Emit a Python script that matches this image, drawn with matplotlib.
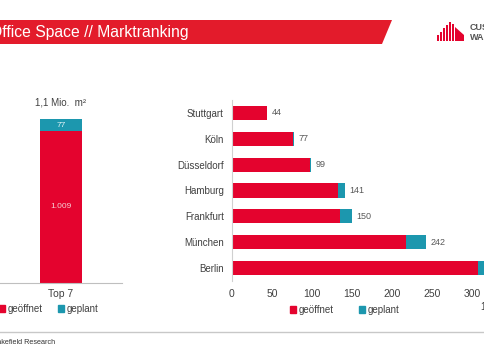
import matplotlib
matplotlib.use("Agg")
import matplotlib.pyplot as plt
from matplotlib.patches import Polygon, Rectangle

plt.rcParams['font.family'] = ['Liberation Sans', 'DejaVu Sans']

# data (1.000 m²)
cities = ["Stuttgart", "Köln", "Düsseldorf", "Hamburg", "Frankfurt", "München", "Berlin"]
opened = [44, 76, 97, 132, 135, 217, 308]
planned = [0, 1, 2, 9, 15, 25, 25]
totals = [44, 77, 99, 141, 150, 242, 333]
top7_opened = 1009
top7_planned = 77
top7_label = "Top 7"

RED = "#E4032E"
TEAL = "#1C97AE"
GREY = "#404040"

W, H = 485, 360
fig = plt.figure(figsize=(W / 100, H / 100), dpi=100)


def rect(x0, y0, x1, y1):
    # pixel box -> figure fraction
    return [x0 / W, 1 - y1 / H, (x1 - x0) / W, (y1 - y0) / H]


# header banner
bg = fig.add_axes([0, 0, 1, 1])
bg.set_xlim(0, W)
bg.set_ylim(H, 0)
bg.axis("off")
bg.add_patch(Polygon([(0, 20), (392, 20), (382, 44), (0, 44)], closed=True,
                     facecolor="#E31B2B", edgecolor="none"))
bg.text(-10.5, 32, "Office Space // Marktranking", color="white", fontsize=11.3,
        va="center", ha="left")

# logo
for bx, bh in [(437, 6), (440, 9), (443, 13), (446, 16), (449, 19), (452, 17)]:
    bg.add_patch(Rectangle((bx, 41 - bh), 2, bh, facecolor=RED, edgecolor="none"))
bg.add_patch(Polygon([(455, 41), (455, 27), (464, 35), (464, 41)], closed=True,
                     facecolor=RED, edgecolor="none"))
bg.text(470, 28, "CUSHMAN", color="#555555", fontsize=6.5, fontweight="bold", va="center")
bg.text(470, 37, "WAKEFIELD", color="#555555", fontsize=6.5, fontweight="bold", va="center")

# footer
bg.plot([0, W], [332, 332], color="#C8C8C8", lw=1)
bg.text(55, 343, "Quelle: Cushman & Wakefield Research", fontsize=5.2, color="#333333",
        ha="right", va="center")
bg.text(481, 307, "1.000 m²", fontsize=7, color=GREY, ha="left", va="center")

# left chart: Top 7
axl = fig.add_axes(rect(0, 102, 122, 283))
axl.bar([0], [top7_opened], width=1, color=RED)
axl.bar([0], [top7_planned], width=1, bottom=[top7_opened], color=TEAL)
axl.set_xlim(-1.45, 1.45)
axl.set_ylim(0, 1200)
for s in ["top", "right", "left"]:
    axl.spines[s].set_visible(False)
axl.spines["bottom"].set_color("#BFBFBF")
axl.set_yticks([])
axl.set_xticks([0])
axl.set_xticklabels([top7_label], fontsize=7.5, color=GREY)
axl.tick_params(axis="x", length=0, pad=4)
axl.text(0, top7_opened / 2, "1.009", color="#F5D0D5", fontsize=6, ha="center", va="center")
axl.text(0, top7_opened + top7_planned / 2, str(top7_planned), color="#E0F2F6", fontsize=6,
         ha="center", va="center")
axl.text(0, top7_opened + top7_planned + 110, "1,1 Mio.  m²", fontsize=7, color=GREY,
         ha="center", va="center")
l1 = axl.legend(handles=[Rectangle((0, 0), 1, 1, color=RED), Rectangle((0, 0), 1, 1, color=TEAL)],
                labels=["geöffnet", "geplant"], ncol=2, frameon=False, fontsize=7,
                handlelength=0.6, handleheight=0.6, handletextpad=0.3, columnspacing=1.6,
                loc="center left", borderaxespad=0)
for t in l1.get_texts():
    t.set_color(GREY)
l1.set_bbox_to_anchor(rect(-5, 302, 100, 316), transform=fig.transFigure)

# right chart: cities
axr = fig.add_axes(rect(232, 100, 512, 281))
y = list(range(len(cities)))
axr.barh(y, opened, height=0.55, color=RED)
axr.barh(y, planned, height=0.55, left=opened, color=TEAL)
for yi, tot in zip(y, totals):
    axr.text(tot + 6, yi, str(tot), fontsize=6.5, color="#595959", va="center", ha="left")
axr.set_yticks(y)
axr.set_yticklabels(cities, fontsize=7, color=GREY)
axr.set_ylim(6.5, -0.5)
axr.set_xlim(0, 350)
axr.set_xticks([0, 50, 100, 150, 200, 250, 300, 350])
axr.tick_params(axis="x", length=0, labelsize=7.5, labelcolor=GREY, pad=6)
axr.tick_params(axis="y", length=0, pad=6)
for s in ["top", "right", "bottom"]:
    axr.spines[s].set_visible(False)
axr.spines["left"].set_color("#D0D0D0")
l2 = axr.legend(handles=[Rectangle((0, 0), 1, 1, color=RED), Rectangle((0, 0), 1, 1, color=TEAL)],
                labels=["geöffnet", "geplant"], ncol=2, frameon=False, fontsize=7,
                handlelength=0.6, handleheight=0.6, handletextpad=0.3, columnspacing=2.6,
                loc="center left", borderaxespad=0)
for t in l2.get_texts():
    t.set_color(GREY)
l2.set_bbox_to_anchor(rect(286, 303, 400, 317), transform=fig.transFigure)

fig.savefig("out.png", dpi=100, facecolor="white")
